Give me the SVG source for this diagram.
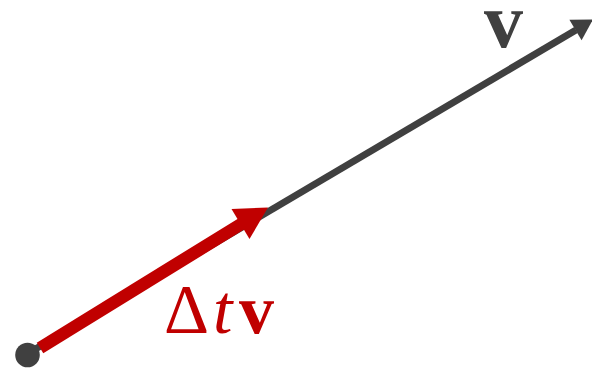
<svg xmlns="http://www.w3.org/2000/svg" width="592" height="369" viewBox="0 0 592 369">
<style>
.gray{stroke:#404040;stroke-width:7;fill:none}
.red{stroke:#C00000;stroke-width:12.5;fill:none}
.lbl{font-family:"Liberation Serif","DejaVu Serif",serif}
</style>
<g id="connectors">
<path class="gray" d="M27,354 L576,30"/>
<polygon points="593,19.5 569.4,19.7 581.6,40.3" fill="#404040"/>
<path class="red" d="M40,348 L242,223.5"/>
<polygon points="268,207.5 231.5,209 249.5,239" fill="#C00000"/>
</g>
<g id="origin"><circle cx="27.5" cy="355" r="12.3" fill="#404040"/></g>
<g id="label-v"><text class="lbl" x="484" y="47" font-size="78" fill="#404040" font-weight="bold">v</text></g>
<g id="label-dtv"><text class="lbl" y="333" font-size="70" fill="#C00000"><tspan x="164">Δ</tspan><tspan x="213" font-style="italic">t</tspan><tspan x="239" font-weight="bold">v</tspan></text></g>
</svg>
